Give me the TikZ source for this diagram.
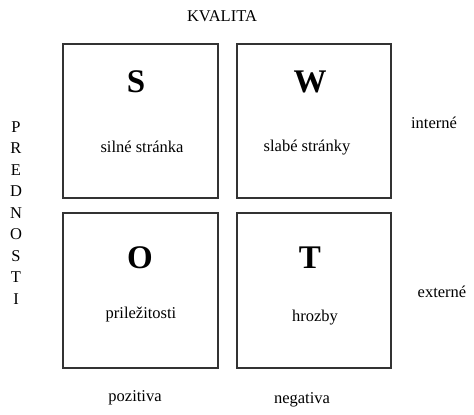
\documentclass[tikz,border=0pt]{standalone}
\usepackage{fontspec}
\setmainfont{Liberation Serif}
\begin{document}
\begin{tikzpicture}[x=1pt,y=-1pt,
  quad/.style={draw=black!80,line width=1.6pt},
  big/.style={font=\fontsize{33}{36}\selectfont\bfseries},
  txt/.style={font=\fontsize{16.5}{19}\selectfont},
  vert/.style={font=\fontsize{16.5}{19}\selectfont,inner sep=0pt}]
\useasboundingbox (0,0) rectangle (474,415);
\draw[quad] (63,44) rectangle (218,198);
\draw[quad] (237,44) rectangle (391,198);
\draw[quad] (63,213) rectangle (218,368);
\draw[quad] (237,213) rectangle (391,368);
\node[txt] (kval) at (222,16) {KVALITA};
\node[big] (s) at (136,82) {S};
\node[big] (w) at (310,82) {W};
\node[big] (o) at (140,258) {O};
\node[big] (t) at (310,258) {T};
\node[txt] (st) at (142,147) {silné stránka};
\node[txt] (wt) at (307,148) {slabé stránky};
\node[txt] (ot) at (141,315) {priležitosti};
\node[txt] (tt) at (315,318) {hrozby};
\node[txt] (int) at (434,123) {interné};
\node[txt] (ext) at (442,292) {externé};
\node[txt] (poz) at (135,398) {pozitiva};
\node[txt] (neg) at (302,400) {negativa};
\foreach \c [count=\i] in {P,R,E,D,N,O,S,T,I}
  \node[vert] (p\i) at (16,{127+(\i-1)*21.5}) {\c};
\end{tikzpicture}
\end{document}
